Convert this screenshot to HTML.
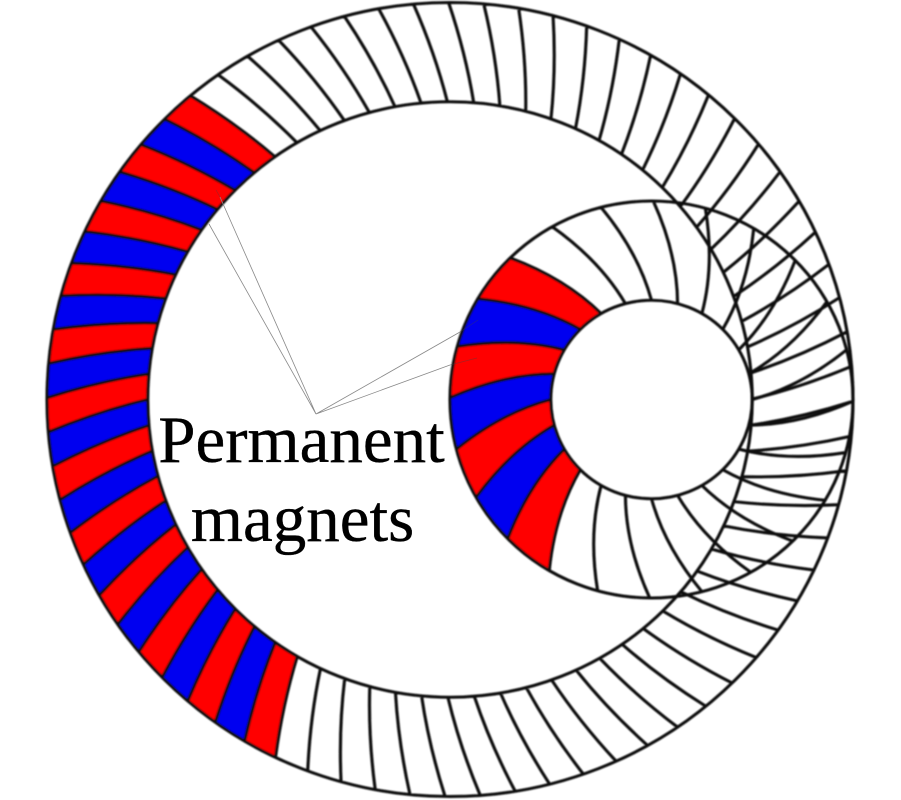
<!DOCTYPE html>
<html>
<head>
<meta charset="utf-8">
<title>Permanent magnets</title>
<style>
html,body{margin:0;padding:0;background:#fff;width:901px;height:800px;overflow:hidden}
svg{display:block}
text{font-family:"Liberation Serif",serif;font-size:67px;fill:#000;stroke:#000;stroke-width:0.35;text-anchor:middle}
</style>
</head>
<body>
<svg id="s" xmlns="http://www.w3.org/2000/svg" width="901" height="800" viewBox="0 0 901 800">
<defs>
<filter id="b" x="-5%" y="-5%" width="110%" height="110%"><feGaussianBlur stdDeviation="0.7"/></filter>
<filter id="t" x="-5%" y="-20%" width="110%" height="140%"><feGaussianBlur stdDeviation="0.3"/></filter>
</defs>
<rect width="901" height="800" fill="#fff"/>
<g id="rings" filter="url(#b)" transform="translate(450 399.5) scale(1.0075 0.9925)"></g>
<g fill="none" stroke="#888" stroke-width="0.8">
<path d="M316 414L209 224M316 414L220 197M316 414L460 332M316 414L450 365"/>
</g>
<path d="M460 332L478 320M450 365L477 358M220 197L216 190" fill="none" stroke="#444" stroke-width="0.7" opacity="0.45"/>
<g filter="url(#t)">
<text x="301.5" y="462">Permanent</text>
<text x="302.5" y="541">magnets</text>
</g>
</svg>
<script>
(function(){
var g=document.getElementById('rings');
var RAD=Math.PI/180;
function pt(cx,R,a){return [cx-R*Math.cos(a*RAD),-R*Math.sin(a*RAD)];}
function f(p){return p[0].toFixed(2)+' '+p[1].toFixed(2);}
function ctrl(cx,R,r,a,skew,bulge){
  var o=pt(cx,R,a),i=pt(cx,r,a+skew),m=a+skew/2;
  return [(o[0]+i[0])/2+2*bulge*Math.sin(m*RAD),(o[1]+i[1])/2-2*bulge*Math.cos(m*RAD)];
}
function add(d,fill,sw){
  var p=document.createElementNS('http://www.w3.org/2000/svg','path');
  p.setAttribute('d',d);p.setAttribute('fill',fill);
  p.setAttribute('stroke','#111');p.setAttribute('stroke-width',sw);
  g.appendChild(p);
}
function ring(c){
  var i,a;
  function adj(t){return t+c.d0-c.d1*Math.sin(t*RAD);}
  for(i=0;i<c.colored;i++){
    a=adj(c.start-i*c.step);
    var b=adj(c.start-(i+1)*c.step);
    var d='M'+f(pt(c.cx,c.R,a))+
      'Q'+f(ctrl(c.cx,c.R,c.r,a,c.skew,c.bulge))+' '+f(pt(c.cx,c.r,a+c.skew))+
      'A'+c.r+' '+c.r+' 0 0 0 '+f(pt(c.cx,c.r,b+c.skew))+
      'Q'+f(ctrl(c.cx,c.R,c.r,b,c.skew,c.bulge))+' '+f(pt(c.cx,c.R,b))+
      'A'+c.R+' '+c.R+' 0 0 1 '+f(pt(c.cx,c.R,a))+'Z';
    add(d,i%2?'#0000f0':'#ff0000',0);
  }
  var n=Math.round(360/c.step),s='';
  for(i=0;i<n;i++){
    a=adj(c.start-i*c.step);
    s+='M'+f(pt(c.cx,c.R,a))+'Q'+f(ctrl(c.cx,c.R,c.r,a,c.skew,c.bulge))+' '+f(pt(c.cx,c.r,a+c.skew));
  }
  [c.R,c.r].forEach(function(q){
    s+='M'+(c.cx-q)+' 0A'+q+' '+q+' 0 1 1 '+(c.cx+q)+' 0A'+q+' '+q+' 0 1 1 '+(c.cx-q)+' 0Z';
  });
  add(s,'none',c.sw);
}
ring({cx:0,R:400,r:300,start:50,step:5,skew:4.7,bulge:2.2,colored:23,sw:3.1,d0:0.25,d1:0.45});
ring({cx:200,R:200,r:100,start:45.5,step:15,skew:14.5,bulge:6,colored:7,sw:3.1,d0:0,d1:0});
})();
</script>
</body>
</html>
